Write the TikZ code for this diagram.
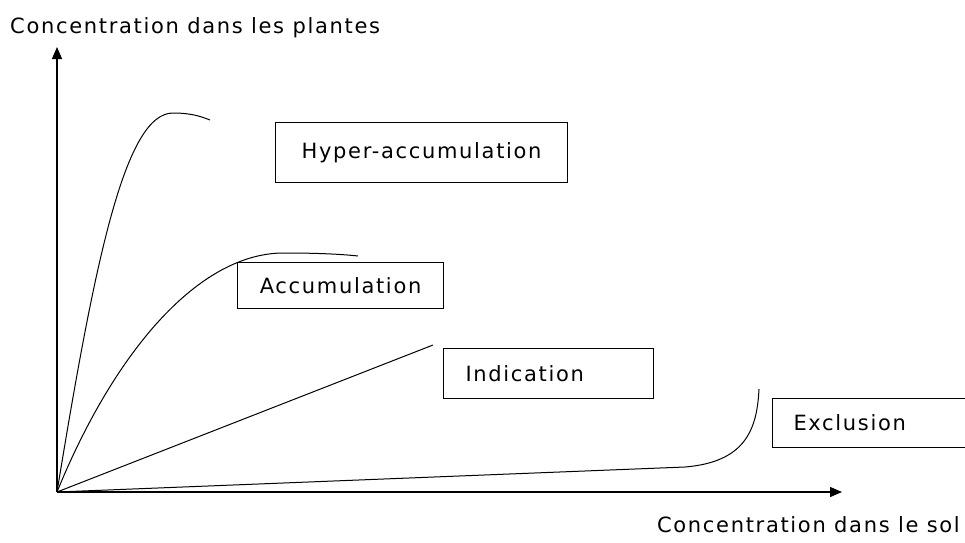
\documentclass[tikz,border=0pt]{standalone}
\usepackage{fontspec}
\setmainfont[LetterSpace=8]{DejaVu Sans}
\usetikzlibrary{arrows.meta}
\begin{document}
\begin{tikzpicture}[x=1pt,y=-1pt,
  lbl/.style={font=\fontsize{21}{24}\selectfont, inner sep=0pt},
  box/.style={draw, line width=1.1pt, font=\fontsize{21}{24}\selectfont, anchor=north west},
  curve/.style={line width=1pt},
  axis/.style={line width=1.3pt, -{Triangle[length=12pt,width=10pt]}}]
\useasboundingbox (0,0) rectangle (965,542);
\fill[white] (0,0) rectangle (965,542);
\coordinate (O) at (57,492);
\coordinate (ytip) at (57,47);
\coordinate (xtip) at (842,492);
\draw[axis] (O) -- (ytip);
\draw[axis] (O) -- (xtip);
\node[lbl, anchor=west] (ylab) at (10,28) {Concentration dans les plantes};
\node[lbl, anchor=east] (xlab) at (960,525) {Concentration dans le sol};
% curves
\draw[curve] (O) .. controls (95,260) and (125,113) .. (173,113)
  .. controls (190,113) and (200,116) .. (210,120);
\draw[curve] (O) .. controls (115,350) and (200,252) .. (285,253)
  .. controls (315,253) and (340,254) .. (358,256);
\coordinate (iend) at (433,345);
\draw[curve] (O) -- (iend);
\draw[curve] (O) -- (685,467) .. controls (745,462) and (757,430) .. (759,389);
% boxes
\node[box, minimum width=292pt, minimum height=60pt] (hyper) at (275,122) {Hyper-accumulation};
\node[box, fill=white, minimum width=206pt, minimum height=46pt] (accu) at (237,262) {Accumulation};
\node[box, minimum height=50pt, inner xsep=22pt, text width=166pt, align=left] (indi) at (443,348) {Indication};
\begin{scope}
\clip (0,0) rectangle (965,542);
\node[box, minimum height=49pt, inner xsep=21pt, text width=200pt, align=left] (excl) at (772,398) {Exclusion};
\end{scope}
\end{tikzpicture}
\end{document}
